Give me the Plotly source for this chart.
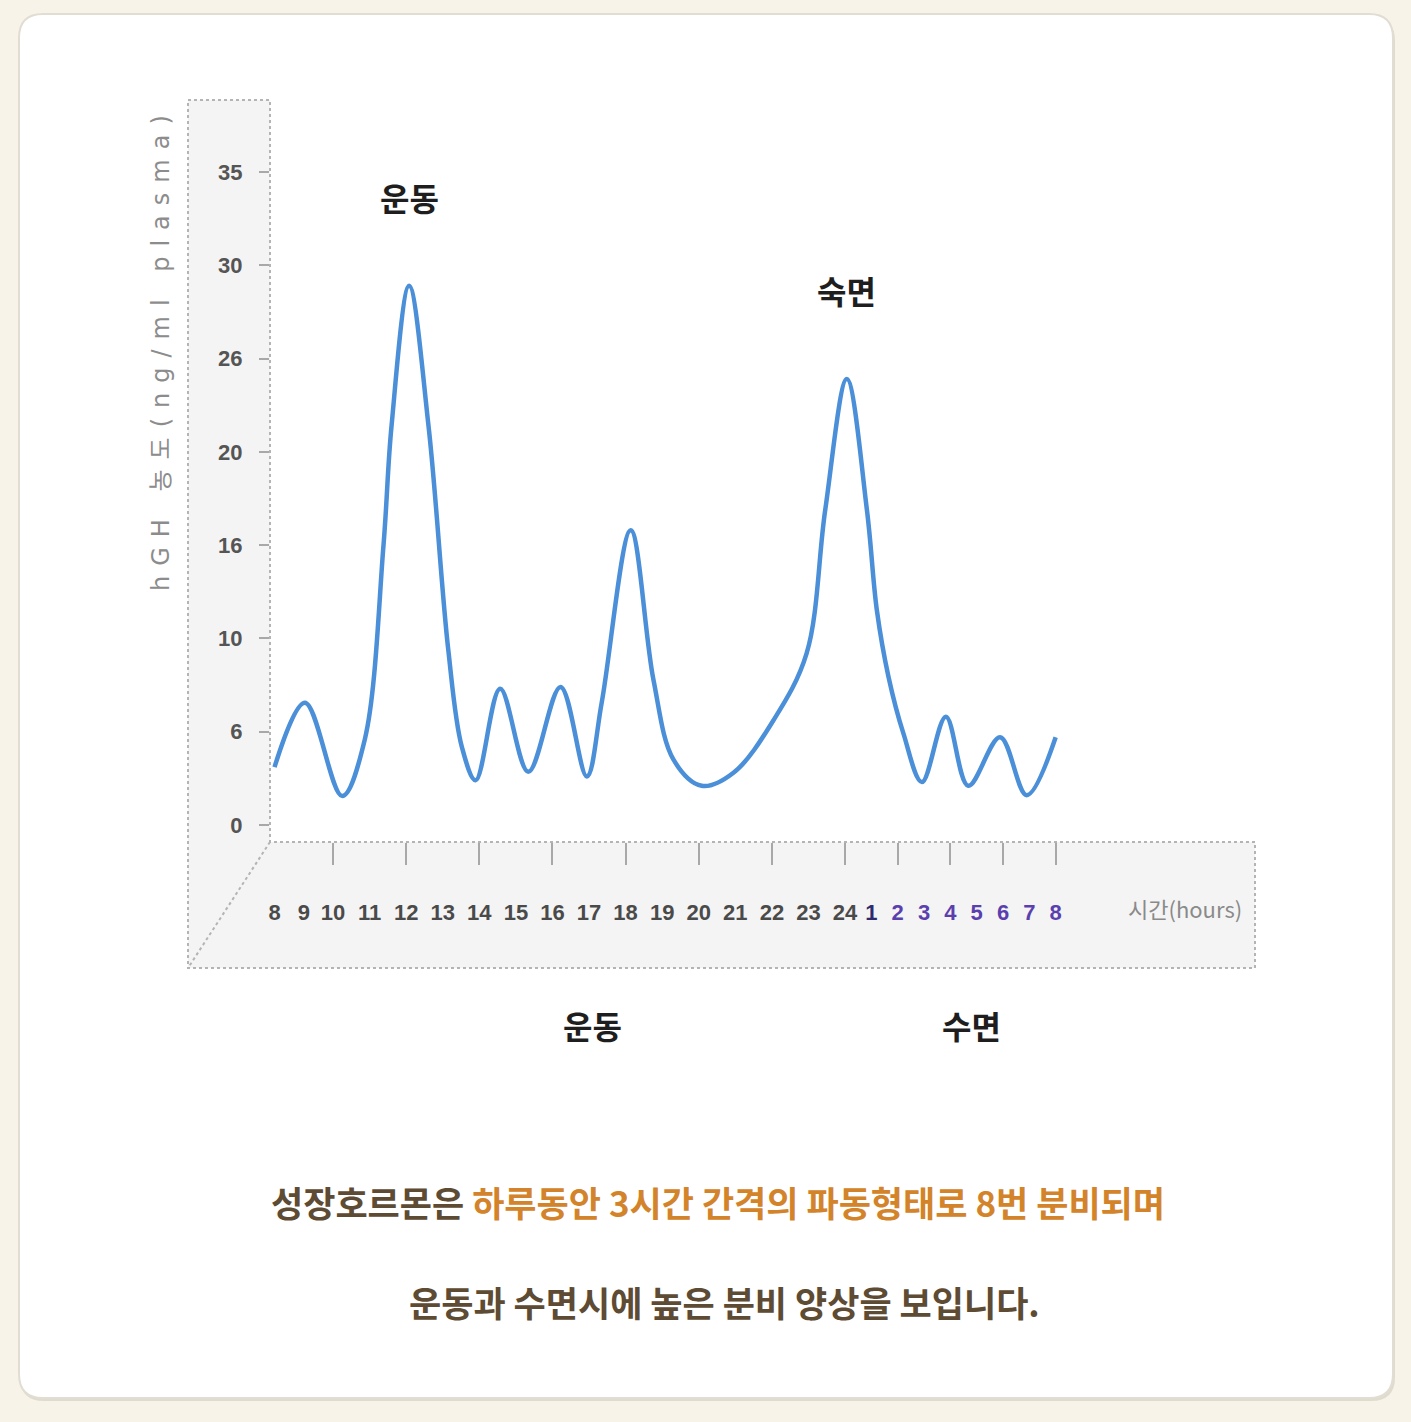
import plotly.graph_objects as go

# ---------------- data ----------------
# hours elapsed since 08:00 (0 .. 24) and hGH concentration (ng/ml plasma)
HOURS = [0.0, 1.04, 2.25, 2.87, 3.38, 3.60, 4.08, 4.61, 5.15, 5.52, 5.90,
         6.57, 7.34, 8.22, 8.94, 9.35, 10.14, 10.76, 11.31, 12.08,
         12.95, 14.04, 14.95, 15.46, 16.07, 16.83, 17.21, 17.65,
         18.22, 18.92, 19.83, 20.68, 21.89, 22.90, 24.0]
HGH = [3.1, 6.55, 1.55, 4.6, 15.0, 21.4, 28.9, 21.4, 9.4, 4.2, 2.4,
       7.3, 2.85, 7.4, 2.6, 6.6, 15.8, 7.8, 3.5, 2.1,
       2.8, 5.6, 9.2, 16.9, 23.9, 16.9, 11.5, 7.95,
       4.9, 2.3, 5.8, 2.1, 4.7, 1.6, 4.7]

HOUR_LABELS = ["8", "9", "10", "11", "12", "13", "14", "15", "16", "17", "18",
               "19", "20", "21", "22", "23", "24", "1", "2", "3", "4", "5",
               "6", "7", "8"]
TICK_MARK_HOURS = [2, 4, 6, 8, 10, 12, 14, 16, 18, 20, 22, 24]
Y_TICK_VALUES = [0, 5, 10, 15, 20, 25, 30, 35]
Y_TICK_TEXT = ["0", "6", "10", "16", "20", "26", "30", "35"]

PEAK_LABELS = ["운동", "숙면"]
PEAK_HOURS = [4.08, 16.07]
PEAK_VALUES = [28.9, 23.9]

# ---------------- geometry helpers ----------------
W, H = 1411, 1422
PL, PR, PT, PB = 270, 1255, 100, 842     # plot area in pixels
X0_PX, K_PX = 259.9, 36.57               # x-axis: pixel of axis unit 0 and px per unit
Y0_PX, KY_PX = 825.0, 18.66              # y-axis: pixel of value 0 and px per unit


def axis_pos(t):
    # the original chart squeezes the first two hours and the night hours
    if t < 2:
        return 2 - (2 - t) * 0.8
    if t <= 16:
        return t
    return 16 + (t - 16) * 0.72


def PX(x):
    return (x - PL) / (PR - PL)


def PY(y):
    return (PB - y) / (PB - PT)


x_range = [(PL - X0_PX) / K_PX, (PR - X0_PX) / K_PX]
y_range = [(Y0_PX - PB) / KY_PX, (Y0_PX - PT) / KY_PX]

fig = go.Figure()

fig.add_trace(go.Scatter(
    x=[axis_pos(t) for t in HOURS], y=HGH, mode="lines",
    line=dict(color="#4a8fd8", width=4.5, shape="spline", smoothing=1.0),
    hoverinfo="skip", showlegend=False))

# invisible trace to activate the tick-mark axis
fig.add_trace(go.Scatter(x=[axis_pos(TICK_MARK_HOURS[0])], y=[0], xaxis="x2",
                         mode="markers", marker=dict(opacity=0), hoverinfo="skip",
                         showlegend=False))


def tick_label(i, lab):
    if i <= 16:
        col = "#4a4a4a"
    elif i == 17:
        col = "#2f2a6e"
    else:
        col = "#5a3fae"
    return f"<span style='color:{col}'>{lab}</span>"


NARROW = "Liberation Sans Narrow, Liberation Sans, Arial Narrow, sans-serif"
KFONT = "Noto Sans CJK KR, sans-serif"

# ---------------- shapes ----------------
shapes = []


def rounded_rect(x0, y0, x1, y1, r):
    pts = [
        f"M {PX(x0 + r)},{PY(y0)}",
        f"L {PX(x1 - r)},{PY(y0)}",
        f"Q {PX(x1)},{PY(y0)} {PX(x1)},{PY(y0 + r)}",
        f"L {PX(x1)},{PY(y1 - r)}",
        f"Q {PX(x1)},{PY(y1)} {PX(x1 - r)},{PY(y1)}",
        f"L {PX(x0 + r)},{PY(y1)}",
        f"Q {PX(x0)},{PY(y1)} {PX(x0)},{PY(y1 - r)}",
        f"L {PX(x0)},{PY(y0 + r)}",
        f"Q {PX(x0)},{PY(y0)} {PX(x0 + r)},{PY(y0)}",
        "Z",
    ]
    return " ".join(pts)


# card shadow + card
shapes.append(dict(type="path", xref="paper", yref="paper", layer="below",
                   path=rounded_rect(20, 17, 1395, 1401, 24),
                   fillcolor="rgba(120,110,90,0.18)", line=dict(width=0)))
shapes.append(dict(type="path", xref="paper", yref="paper", layer="below",
                   path=rounded_rect(19, 14, 1393, 1398, 24),
                   fillcolor="#ffffff", line=dict(color="#e2ddd2", width=2)))

# wall + floor
outline = [(188, 100), (270, 100), (270, 842), (1255, 842), (1255, 968), (188, 968)]
outline_path = "M " + " L ".join(f"{PX(x)},{PY(y)}" for x, y in outline) + " Z"
shapes.append(dict(type="path", xref="paper", yref="paper", layer="below",
                   path=outline_path, fillcolor="#f4f4f4", line=dict(width=0)))
shapes.append(dict(type="path", xref="paper", yref="paper", layer="below",
                   path=outline_path, fillcolor="rgba(0,0,0,0)",
                   line=dict(color="#b4b4b4", width=2, dash="dot")))
shapes.append(dict(type="line", xref="paper", yref="paper", layer="below",
                   x0=PX(270), y0=PY(842), x1=PX(188), y1=PY(968),
                   line=dict(color="#b4b4b4", width=2, dash="dot")))

# ---------------- annotations ----------------
ann = []
for lab, hx, hv in zip(PEAK_LABELS, PEAK_HOURS, PEAK_VALUES):
    ann.append(dict(x=axis_pos(hx), y=hv, xref="x", yref="y", text=lab,
                    showarrow=False, xanchor="center", yanchor="middle", yshift=89,
                    font=dict(family=KFONT, size=32, color="#1e1e1e", weight=700)))


def paper_text(x, y, text, font, **kw):
    d = dict(x=PX(x), y=PY(y), xref="paper", yref="paper", text=text,
             showarrow=False, xanchor="center", yanchor="middle", font=font)
    d.update(kw)
    return d


ann.append(paper_text(592, 1025, "운동", dict(family=KFONT, size=32, color="#1e1e1e", weight=700)))
ann.append(paper_text(971, 1025, "수면", dict(family=KFONT, size=32, color="#1e1e1e", weight=700)))
ann.append(paper_text(1185, 908, "시간(hours)", dict(family=KFONT, size=22, color="#8a8a8a")))
ann.append(paper_text(161, 348,
                      "<span style='letter-spacing:10px'>hGH 농도(ng/ml plasma)</span>",
                      dict(family="DejaVu Sans, Noto Sans CJK KR", size=24, color="#8c8c8c"),
                      textangle=-90))
ann.append(paper_text(718, 1201,
                      "<span style='color:#5e4b33'>성장호르몬은</span> "
                      "<span style='color:#d3842b'>하루동안 3시간 간격의 파동형태로 8번 분비되며</span>",
                      dict(family=KFONT, size=35, weight=700)))
ann.append(paper_text(724, 1301, "운동과 수면시에 높은 분비 양상을 보입니다.",
                      dict(family=KFONT, size=35, color="#5e4b33", weight=700)))

fig.update_layout(
    width=W, height=H,
    margin=dict(l=PL, r=W - PR, t=PT, b=H - PB, autoexpand=False),
    paper_bgcolor="#f7f3e9", plot_bgcolor="rgba(0,0,0,0)",
    showlegend=False, hovermode=False,
    shapes=shapes, annotations=ann,
    xaxis=dict(range=x_range, showgrid=False, zeroline=False, showline=False,
               tickmode="array", tickvals=[axis_pos(i) for i in range(len(HOUR_LABELS))],
               ticktext=[tick_label(i, l) for i, l in enumerate(HOUR_LABELS)],
               ticks="", ticklabelstandoff=55,
               tickfont=dict(family=NARROW, size=22, color="#4a4a4a", weight=700)),
    xaxis2=dict(range=x_range, overlaying="x", anchor="y", side="bottom",
                showgrid=False, zeroline=False, showline=False, showticklabels=False,
                tickmode="array", tickvals=[axis_pos(t) for t in TICK_MARK_HOURS],
                ticks="outside", ticklen=22, tickwidth=2, tickcolor="#a8a8a8"),
    yaxis=dict(range=y_range, showgrid=False, zeroline=False, showline=False,
               tickmode="array", tickvals=Y_TICK_VALUES, ticktext=Y_TICK_TEXT,
               ticks="outside", ticklen=10, tickwidth=2, tickcolor="#a8a8a8",
               ticklabelstandoff=12,
               tickfont=dict(family=NARROW, size=22, color="#555555", weight=700)),
)

fig.write_html("out.html",
               config={"displayModeBar": False},
               post_script="document.body.style.margin='0';"
                           "document.body.style.overflow='hidden';"
                           "document.body.style.background='#f7f3e9';")
